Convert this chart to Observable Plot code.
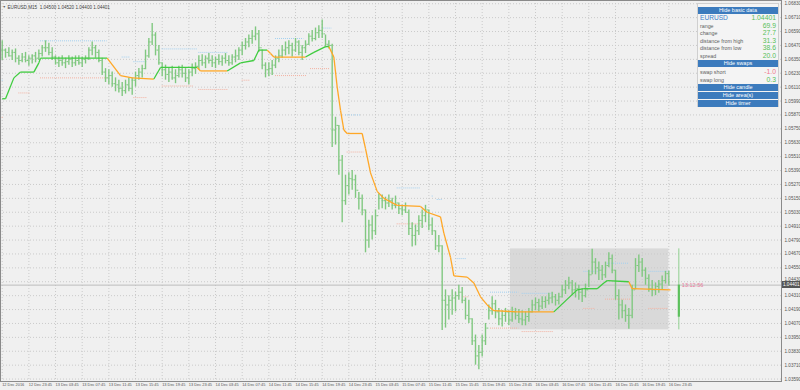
<!DOCTYPE html>
<html><head><meta charset="utf-8">
<script src="https://cdn.jsdelivr.net/npm/d3@7"></script>
<script src="https://cdn.jsdelivr.net/npm/@observablehq/plot@0.6"></script>
<style>
body{margin:0;background:#f0f0f0;font-family:"Liberation Sans",Arial,sans-serif}
#wrap{position:relative;width:800px;height:390px;overflow:hidden;background:#f0f0f0}
#panel{position:absolute;left:697px;top:3px;width:82px;height:104px;background:#f4f4f4;border:1px solid #cfcfcf;box-sizing:border-box}
.btn{position:absolute;left:0;width:80px;height:7px;background:#3c7bbd;color:#fff;text-align:center;line-height:7px;font-size:5.5px}
.row{position:absolute;left:2px;width:76px;height:8px;line-height:8px}
.lab{position:absolute;left:0;font-size:5.3px;color:#606060}
.val{position:absolute;right:0;font-size:6.8px;color:#58c058}
#pricebox{position:absolute;left:782px;width:18px;height:7px;background:#555;color:#fff;font-size:4.6px;line-height:7px;text-align:left;padding-left:1px;box-sizing:border-box}
</style></head>
<body><div id="wrap"></div>
<script>
// ---- data (EURUSD M15, one bar per 30 min) ----
const high = [1.0651,1.0644,1.0645,1.0643,1.0644,1.0638,1.0640,1.0641,1.0638,1.0639,
1.0641,1.0643,1.0647,1.0651,1.0649,1.0645,1.0638,1.0637,1.0638,1.0636,
1.0638,1.0637,1.0638,1.0638,1.0637,1.0638,1.0645,1.0650,1.0647,1.0643,
1.0636,1.0627,1.0626,1.0624,1.0619,1.0617,1.0615,1.0617,1.0619,1.0619,
1.0624,1.0627,1.0630,1.0643,1.0653,1.0666,1.0658,1.0647,1.0632,1.0630,
1.0627,1.0629,1.0626,1.0629,1.0630,1.0627,1.0626,1.0631,1.0632,1.0638,
1.0639,1.0638,1.0640,1.0638,1.0637,1.0639,1.0638,1.0640,1.0638,1.0639,
1.0643,1.0645,1.0650,1.0653,1.0656,1.0660,1.0663,1.0660,1.0643,1.0632,
1.0632,1.0634,1.0638,1.0643,1.0647,1.0650,1.0651,1.0649,1.0653,1.0651,
1.0647,1.0651,1.0657,1.0660,1.0662,1.0664,1.0669,1.0656,1.0651,1.0648,
1.0585,1.0578,1.0552,1.0535,1.0537,1.0539,1.0535,1.0520,1.0518,1.0505,
1.0496,1.0500,1.0505,1.0519,1.0518,1.0516,1.0518,1.0515,1.0517,1.0511,
1.0509,1.0511,1.0505,1.0494,1.0492,1.0500,1.0505,1.0509,1.0505,1.0498,
1.0487,1.0483,1.0474,1.0436,1.0431,1.0436,1.0434,1.0440,1.0438,1.0429,
1.0427,1.0411,1.0397,1.0388,1.0397,1.0407,1.0423,1.0430,1.0427,1.0420,
1.0418,1.0420,1.0418,1.0421,1.0420,1.0419,1.0418,1.0417,1.0420,1.0427,
1.0429,1.0428,1.0430,1.0430,1.0433,1.0434,1.0432,1.0433,1.0440,1.0444,
1.0447,1.0444,1.0442,1.0440,1.0437,1.0441,1.0453,1.0471,1.0463,1.0460,
1.0457,1.0460,1.0468,1.0466,1.0453,1.0436,1.0427,1.0423,1.0420,1.0440,
1.0463,1.0466,1.0463,1.0455,1.0449,1.0444,1.0442,1.0444,1.0448,1.0452,1.0452];
const low = [1.0634,1.0636,1.0637,1.0634,1.0632,1.0630,1.0632,1.0632,1.0629,1.0631,
1.0632,1.0634,1.0637,1.0641,1.0638,1.0634,1.0630,1.0628,1.0629,1.0627,
1.0630,1.0628,1.0629,1.0630,1.0628,1.0631,1.0634,1.0638,1.0636,1.0632,
1.0621,1.0615,1.0613,1.0611,1.0607,1.0606,1.0603,1.0605,1.0607,1.0604,
1.0611,1.0617,1.0619,1.0626,1.0636,1.0647,1.0638,1.0630,1.0620,1.0617,
1.0615,1.0617,1.0614,1.0619,1.0619,1.0615,1.0613,1.0620,1.0622,1.0626,
1.0629,1.0627,1.0631,1.0628,1.0627,1.0630,1.0629,1.0631,1.0629,1.0630,
1.0632,1.0634,1.0638,1.0643,1.0645,1.0648,1.0651,1.0641,1.0626,1.0619,
1.0620,1.0621,1.0627,1.0632,1.0636,1.0638,1.0639,1.0637,1.0641,1.0638,
1.0634,1.0640,1.0647,1.0650,1.0651,1.0653,1.0653,1.0645,1.0644,1.0559,
1.0561,1.0535,1.0494,1.0509,1.0518,1.0522,1.0515,1.0505,1.0500,1.0468,
1.0472,1.0479,1.0483,1.0505,1.0506,1.0505,1.0507,1.0505,1.0506,1.0501,
1.0500,1.0502,1.0483,1.0473,1.0474,1.0483,1.0489,1.0494,1.0487,1.0483,
1.0470,1.0468,1.0401,1.0403,1.0410,1.0414,1.0417,1.0427,1.0424,1.0410,
1.0407,1.0388,1.0371,1.0367,1.0378,1.0388,1.0410,1.0414,1.0411,1.0405,
1.0404,1.0408,1.0405,1.0408,1.0410,1.0407,1.0405,1.0405,1.0408,1.0416,
1.0418,1.0417,1.0419,1.0420,1.0423,1.0424,1.0422,1.0423,1.0429,1.0432,
1.0436,1.0431,1.0429,1.0427,1.0425,1.0429,1.0438,1.0449,1.0449,1.0444,
1.0444,1.0446,1.0455,1.0450,1.0427,1.0410,1.0411,1.0408,1.0402,1.0411,
1.0436,1.0451,1.0447,1.0440,1.0434,1.0430,1.0431,1.0433,1.0436,1.0441,1.0440];
const close = [1.0643,1.0641,1.0638,1.0641,1.0636,1.0634,1.0637,1.0634,1.0636,1.0638,
1.0636,1.0640,1.0645,1.0645,1.0641,1.0637,1.0632,1.0634,1.0632,1.0633,
1.0635,1.0632,1.0634,1.0632,1.0635,1.0636,1.0643,1.0645,1.0641,1.0634,
1.0624,1.0619,1.0621,1.0614,1.0613,1.0610,1.0608,1.0613,1.0610,1.0617,
1.0621,1.0624,1.0627,1.0638,1.0650,1.0656,1.0643,1.0632,1.0626,1.0622,
1.0624,1.0619,1.0621,1.0626,1.0623,1.0619,1.0624,1.0627,1.0629,1.0634,
1.0632,1.0636,1.0634,1.0632,1.0635,1.0633,1.0636,1.0634,1.0632,1.0637,
1.0638,1.0643,1.0647,1.0650,1.0653,1.0655,1.0657,1.0645,1.0630,1.0626,
1.0627,1.0630,1.0636,1.0638,1.0643,1.0645,1.0647,1.0643,1.0650,1.0641,
1.0645,1.0648,1.0655,1.0653,1.0658,1.0660,1.0657,1.0648,1.0647,1.0574,
1.0578,1.0548,1.0513,1.0526,1.0532,1.0531,1.0522,1.0515,1.0505,1.0479,
1.0492,1.0487,1.0500,1.0515,1.0513,1.0511,1.0513,1.0509,1.0511,1.0506,
1.0505,1.0503,1.0489,1.0483,1.0487,1.0496,1.0500,1.0505,1.0492,1.0487,
1.0474,1.0474,1.0427,1.0423,1.0427,1.0429,1.0431,1.0434,1.0427,1.0414,
1.0411,1.0392,1.0379,1.0382,1.0392,1.0403,1.0418,1.0424,1.0417,1.0411,
1.0414,1.0417,1.0410,1.0417,1.0414,1.0411,1.0410,1.0413,1.0417,1.0423,
1.0425,1.0422,1.0426,1.0427,1.0429,1.0430,1.0427,1.0430,1.0436,1.0440,
1.0442,1.0436,1.0437,1.0434,1.0431,1.0436,1.0449,1.0460,1.0455,1.0453,
1.0449,1.0457,1.0463,1.0453,1.0431,1.0423,1.0418,1.0414,1.0414,1.0436,
1.0457,1.0460,1.0453,1.0446,1.0437,1.0436,1.0439,1.0441,1.0444,1.0450,1.04401];
const barStep = 2; // bars listed every 2 M15 periods

// trend line (bar index, price) and direction of each segment
const maIdx = [0,2,7,11,19,22,23,63,71,78,91,95,117,119,135,143,151,154,159,161,163,182,187,194,196,199,201,203,205,207,216,218,221,225,229,237,251,255,263,265,269,271,279,283,287,291,295,309,331,345,349,357,361,363,376,378,401];
const maVal = [1.0601,1.0601,1.0619,1.0624,1.0624,1.0632,1.0636,1.0636,1.0621,1.0619,1.0618,1.0628,1.0628,1.0625,1.0625,1.0632,1.0634,1.0643,1.0643,1.0640,1.0637,1.0637,1.0641,1.0646,1.0646,1.0637,1.0611,1.0591,1.0574,1.0571,1.0571,1.0558,1.0537,1.0521,1.0515,1.0509,1.0508,1.0503,1.0499,1.0485,1.0464,1.0448,1.0447,1.0442,1.0430,1.0423,1.0418,1.0417,1.0417,1.0436,1.0437,1.0437,1.0442,1.0444,1.0443,1.0437,1.0436];
const maDir = ["u","u","u","u","u","u","u","d","d","d","u","u","d","d","u","u","u","u","d","d","d","u","u","u",
"d","d","d","d","d","d","d","d","d","d","d","d","d","d","d","d","d","d","d","d","d","d","d","d",
"u","u","u","u","u","u","d","d"];

// dotted high / low levels
const levelFrom  = [0,0,10,23,23,72,79,79,96,96,118,118,144,164,164,185,193,206,207,237,237,258,261,273,277,293,293,312,312,349,349,362,362,388,388];
const levelTo    = [1,1,17,63,63,77,87,87,117,115,136,136,149,181,183,197,198,215,217,251,252,259,264,279,280,310,310,331,331,358,356,376,377,401,400];
const levelPrice = [1.0617,1.0585,1.0606,1.0651,1.0619,1.0637,1.0633,1.0602,1.0644,1.0612,1.0641,1.0609,1.0617,1.0653,1.0621,1.0627,1.0662,1.0587,1.0555,1.0524,1.0493,1.0517,1.0514,1.0463,1.0430,1.0434,1.0403,1.0433,1.0400,1.0452,1.0420,1.0459,1.0428,1.0452,1.0420];
const levelKind  = ["hi","lo","lo","hi","lo","hi","hi","lo","hi","lo","hi","lo","lo","hi","lo","lo","hi","hi","lo","hi","lo","hi","hi","hi","lo","hi","lo","hi","lo","hi","lo","hi","lo","hi","lo"];

// today's area and daily candle
const dayFrom = 305, dayTo = 400, candleIdx = 406;
const dayOpen = 1.04124, dayHigh = 1.04714, dayLow = 1.04015, dayClose = 1.04401;

const yTicks = [1.06830,1.06710,1.06590,1.06470,1.06350,1.06230,1.06110,1.05990,1.05870,1.05750,1.05630,1.05510,1.05390,1.05270,1.05150,1.05030,1.04910,1.04790,1.04670,1.04550,1.04430,1.04310,1.04190,1.04070,1.03950,1.03830,1.03710,1.03590];
const xLabels = ["12 Dec 2016","12 Dec 23:45","13 Dec 03:45","13 Dec 07:45","13 Dec 11:45","13 Dec 15:45","13 Dec 19:45","13 Dec 23:45","14 Dec 03:45","14 Dec 07:45","14 Dec 11:45","14 Dec 15:45","14 Dec 19:45","14 Dec 23:45","15 Dec 03:45","15 Dec 07:45","15 Dec 11:45","15 Dec 15:45","15 Dec 19:45","15 Dec 23:45","16 Dec 03:45","16 Dec 07:45","16 Dec 11:45","16 Dec 15:45","16 Dec 19:45","16 Dec 23:45"];
const xLabelIdx = [0,16,32,48,64,80,96,112,128,144,160,176,192,208,224,240,256,272,288,304,320,336,352,368,384,400];
const title = "EURUSD,M15  1.04500 1.04520 1.04400 1.04401";
const timerText = "13:12:56";

// ---- build ----
const bars = high.map((h,k)=>({i:k*barStep, h, l:low[k], c:close[k], o: k>0 ? close[k-1] : close[0]}));
const segs = maDir.map((t,j)=>({x1:maIdx[j],y1:maVal[j],x2:maIdx[j+1],y2:maVal[j+1],t}));
const levels = levelFrom.map((f,j)=>({x1:f,x2:levelTo[j],y:levelPrice[j],k:levelKind[j]}));
const green="#80c880", trendUp="#3fcc3f", trendDown="#ffa726";

const chart = Plot.plot({
  width:800, height:390, marginLeft:0, marginRight:19, marginTop:0, marginBottom:9,
  x:{domain:[-1.02,467.6], axis:null},
  y:{domain:[1.03569,1.06858], axis:null},
  style:{background:"#f0f0f0", fontFamily:"Liberation Sans, Arial, sans-serif", overflow:"visible"},
  marks:[
    Plot.rect([0],{x1:dayFrom, x2:dayTo, y1:dayLow, y2:dayHigh, fill:"#d9d9d9"}),
    Plot.ruleY(yTicks,{y:d=>d, stroke:"#cacaca", strokeDasharray:"1,2"}),
    Plot.ruleX(xLabelIdx,{x:d=>d, stroke:"#cacaca", strokeDasharray:"1,2"}),
    Plot.ruleY([dayClose],{y:d=>d, stroke:"#bdbdbd"}),
    Plot.ruleY(levels,{y:"y", x1:"x1", x2:"x2", stroke:d=>d.k==="hi"?"#a3d0f0":"#f3b2a2", strokeDasharray:"1,1"}),
    Plot.ruleX(bars,{x:"i", y1:"l", y2:"h", stroke:green, strokeWidth:1.4}),
    Plot.ruleY(bars,{y:"o", x1:d=>d.i-0.9, x2:"i", stroke:green, strokeWidth:1}),
    Plot.ruleY(bars,{y:"c", x1:"i", x2:d=>d.i+0.9, stroke:green, strokeWidth:1}),
    Plot.link(segs,{x1:"x1",y1:"y1",x2:"x2",y2:"y2", stroke:d=>d.t==="u"?trendUp:trendDown, strokeWidth:1.3}),
    Plot.ruleX([0],{x:candleIdx, y1:dayLow, y2:dayHigh, stroke:"#8fd08f", strokeWidth:1}),
    Plot.ruleX([0],{x:candleIdx, y1:dayOpen, y2:dayClose, stroke:"#5cc05c", strokeWidth:2.2}),
    Plot.text([timerText],{x:candleIdx, y:dayClose, dx:3, text:d=>d, textAnchor:"start", fill:"#e8789a", fontSize:5.5}),
    Plot.frame({stroke:"#8a8a8a"}),
    Plot.text(yTicks,{y:d=>d, frameAnchor:"right", dx:3, text:d=>d.toFixed(5), textAnchor:"start", fill:"#555", fontSize:4.6,
      filter:d=>Math.abs(d-dayClose)>0.0006}),
    Plot.text(yTicks,{y:d=>d, frameAnchor:"right", dx:3, dy:-2.6, text:d=>d.toFixed(5), textAnchor:"start", fill:"#555", fontSize:4.6,
      filter:d=>Math.abs(d-dayClose)<=0.0006}),
    Plot.text(xLabelIdx,{x:d=>d, frameAnchor:"bottom", dy:4.5, text:(d,j)=>xLabels[j], textAnchor:"start", fill:"#555", fontSize:3.9}),
    Plot.text([title],{frameAnchor:"top-left", dx:7, dy:5, text:d=>d, fill:"#404040", fontSize:4.6}),
    Plot.text(["▼"],{frameAnchor:"top-left", dx:2, dy:5, text:d=>d, fill:"#606060", fontSize:3.5})
  ]
});
const wrap = document.getElementById("wrap");
wrap.appendChild(chart);

// price box on the axis
const yPix = chart.scale("y").apply(dayClose);
const pb = document.createElement("div");
pb.id="pricebox"; pb.style.top=(yPix-3.3)+"px"; pb.textContent=dayClose.toFixed(5);
wrap.appendChild(pb);

// info panel
const panelRows = [
  {type:"btn", text:"Hide basic data", top:3},
  {type:"sym", lab:"EURUSD", val:"1.04401", top:14},
  {type:"row", lab:"range", val:"69.9", top:22},
  {type:"row", lab:"change", val:"27.7", top:29},
  {type:"row", lab:"distance from high", val:"31.3", top:37},
  {type:"row", lab:"distance from low", val:"38.6", top:44},
  {type:"row", lab:"spread", val:"20.0", top:52},
  {type:"btn", text:"Hide swaps", top:56},
  {type:"row", lab:"swap short", val:"-1.0", top:68, neg:true},
  {type:"row", lab:"swap long", val:"0.3", top:76},
  {type:"btn", text:"Hide candle", top:80},
  {type:"btn", text:"Hide area(s)", top:88},
  {type:"btn", text:"Hide timer", top:96}
];
const panel = document.createElement("div"); panel.id="panel";
for (const r of panelRows){
  const d=document.createElement("div");
  if(r.type==="btn"){ d.className="btn"; d.style.top=r.top+"px"; d.textContent=r.text; }
  else {
    d.className="row"; d.style.top=(r.top-4)+"px";
    const a=document.createElement("span"); a.className="lab"; a.textContent=r.lab;
    const b=document.createElement("span"); b.className="val"; b.textContent=r.val;
    if(r.type==="sym"){ a.style.fontSize="6.6px"; a.style.color="#3b7fc9"; }
    if(r.neg){ b.style.color="#f07a8a"; }
    d.appendChild(a); d.appendChild(b);
  }
  panel.appendChild(d);
}
wrap.appendChild(panel);
</script></body></html>
